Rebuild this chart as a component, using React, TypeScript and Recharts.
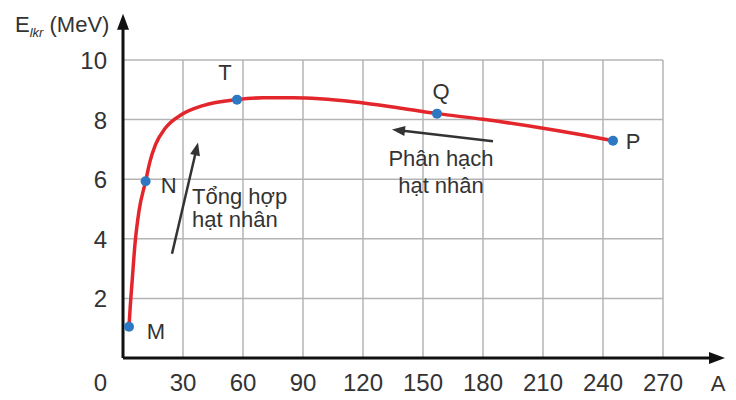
import { ComposedChart, Line, Scatter, XAxis, YAxis, CartesianGrid, ReferenceLine, ReferenceDot } from 'recharts'

// binding energy per nucleon curve
const curveA = [3, 3.5, 4.7, 6, 8, 11.3, 13.5, 16.3, 21, 29.3, 40, 57, 70, 85, 115, 140, 157, 180, 210, 232, 245]
const curveE = [1.05, 1.6, 2.7, 3.83, 4.93, 5.93, 6.6, 7.17, 7.7, 8.17, 8.47, 8.67, 8.73, 8.73, 8.6, 8.37, 8.2, 8.01, 7.71, 7.46, 7.29]

// named points
const pointNames = ['M', 'N', 'T', 'Q', 'P']
const pointA = [3, 11.3, 57, 157, 245]
const pointE = [1.05, 5.93, 8.67, 8.2, 7.29]

const xTicks = [30, 60, 90, 120, 150, 180, 210, 240, 270]
const yTicks = [0, 2, 4, 6, 8, 10]

// annotation arrows: [tailA, tailE, headA, headE]
const fusionArrow = [24.5, 3.5, 37.5, 7.23]
const fissionArrow = [185, 7.27, 134.5, 7.67]

const notes = [
  { A: 34.5, E: 5.17, text: 'Tổng hợp', anchor: 'start' },
  { A: 34.5, E: 4.4, text: 'hạt nhân', anchor: 'start' },
  { A: 159, E: 6.43, text: 'Phân hạch', anchor: 'middle' },
  { A: 159, E: 5.53, text: 'hạt nhân', anchor: 'middle' },
]

const FONT = '"Liberation Sans", Arial, sans-serif'
const RED = '#e3262b'
const BLUE = '#2d78c2'
const TEXT = '#333'

const curveData = curveA.map((a, i) => ({ A: a, E: curveE[i] }))
const pointData = pointNames.map((n, i) => ({ A: pointA[i], E: pointE[i], name: n }))

// label offsets relative to the dot
const labelOffset: Record<string, [number, number]> = {
  M: [27, 12],
  N: [23, 12],
  T: [-12, -20],
  Q: [4, -15],
  P: [20, 8],
}

function arrowShape(len: number, half: number, color: string, width: number) {
  return (props: any) => {
    const { x1, y1, x2, y2 } = props
    const dx = x2 - x1
    const dy = y2 - y1
    const d = Math.sqrt(dx * dx + dy * dy) || 1
    const ux = dx / d
    const uy = dy / d
    const bx = x2 - ux * len
    const by = y2 - uy * len
    const pts = `${x2},${y2} ${bx - uy * half},${by + ux * half} ${bx + uy * half},${by - ux * half}`
    return (
      <g>
        <line x1={x1} y1={y1} x2={bx + ux * 2} y2={by + uy * 2} stroke={color} strokeWidth={width} />
        <polygon points={pts} fill={color} />
      </g>
    )
  }
}

const PointShape = (props: any) => {
  const { cx, cy, payload } = props
  const [dx, dy] = labelOffset[payload.name]
  return (
    <g>
      <circle cx={cx} cy={cy} r={5} fill={BLUE} />
      <text x={cx + dx} y={cy + dy} textAnchor="middle" fontSize={22} fill={TEXT} fontFamily={FONT}>
        {payload.name}
      </text>
    </g>
  )
}

const XTick = (props: any) => {
  const { x, y, payload } = props
  return (
    <text x={x} y={y} dy={25} textAnchor="middle" fontSize={24} fill={TEXT} fontFamily={FONT}>
      {payload.value}
    </text>
  )
}

const YTick = (props: any) => {
  const { x, y, payload } = props
  const shift = payload.value === 0 ? 24 : 0
  return (
    <text x={x} y={y + shift} dy={9} textAnchor="end" fontSize={24} fill={TEXT} fontFamily={FONT}>
      {payload.value}
    </text>
  )
}

export default function App() {
  return (
    <div style={{ width: 728, height: 392, background: '#fff' }}>
      <ComposedChart width={728} height={392} margin={{ top: 52, right: 73, left: 65, bottom: 12 }}>
        <CartesianGrid stroke="#b4b4b4" strokeWidth={1.5} verticalValues={xTicks} horizontalValues={yTicks} />
        <XAxis
          type="number"
          dataKey="A"
          domain={[0, 270]}
          ticks={xTicks}
          allowDataOverflow
          axisLine={false}
          tickLine={false}
          height={30}
          tick={<XTick />}
          label={{
            content: ({ viewBox }: any) => (
              <text x={viewBox.x + viewBox.width + 55} y={viewBox.y + 33} textAnchor="middle" fontSize={22} fill={TEXT} fontFamily={FONT}>
                A
              </text>
            ),
          }}
        />
        <YAxis
          type="number"
          dataKey="E"
          domain={[0, 10]}
          ticks={yTicks}
          axisLine={false}
          tickLine={false}
          tickMargin={10}
          width={50}
          tick={<YTick />}
          label={{
            content: ({ viewBox }: any) => (
              <text x={viewBox.x - 58} y={viewBox.y - 28} fontSize={22} fill={TEXT} fontFamily={FONT}>
                <tspan>E</tspan>
                <tspan fontSize={13} fontStyle="italic" dy={5}>lkr</tspan>
                <tspan dy={-5}> (MeV)</tspan>
              </text>
            ),
          }}
        />
        <ReferenceLine
          segment={[{ x: 0, y: 0 }, { x: 301, y: 0 }]}
          ifOverflow="visible"
          shape={arrowShape(16, 6, '#111', 3)}
        />
        <ReferenceLine
          segment={[{ x: 0, y: 0 }, { x: 0, y: 11.55 }]}
          ifOverflow="visible"
          shape={arrowShape(16, 6, '#111', 3)}
        />
        <Line
          data={curveData}
          dataKey="E"
          type="monotone"
          stroke={RED}
          strokeWidth={3.5}
          dot={false}
          isAnimationActive={false}
        />
        <ReferenceLine
          segment={[{ x: fusionArrow[0], y: fusionArrow[1] }, { x: fusionArrow[2], y: fusionArrow[3] }]}
          ifOverflow="visible"
          shape={arrowShape(13, 5, '#333', 2.5)}
        />
        <ReferenceLine
          segment={[{ x: fissionArrow[0], y: fissionArrow[1] }, { x: fissionArrow[2], y: fissionArrow[3] }]}
          ifOverflow="visible"
          shape={arrowShape(13, 5, '#333', 2.5)}
        />
        {notes.map((n, i) => (
          <ReferenceDot
            key={i}
            x={n.A}
            y={n.E}
            r={0}
            ifOverflow="visible"
            shape={(p: any) => (
              <text x={p.cx} y={p.cy} textAnchor={n.anchor as any} fontSize={22} fill={TEXT} fontFamily={FONT}>
                {n.text}
              </text>
            )}
          />
        ))}
        <Scatter data={pointData} dataKey="E" shape={<PointShape />} isAnimationActive={false} />
      </ComposedChart>
    </div>
  )
}
